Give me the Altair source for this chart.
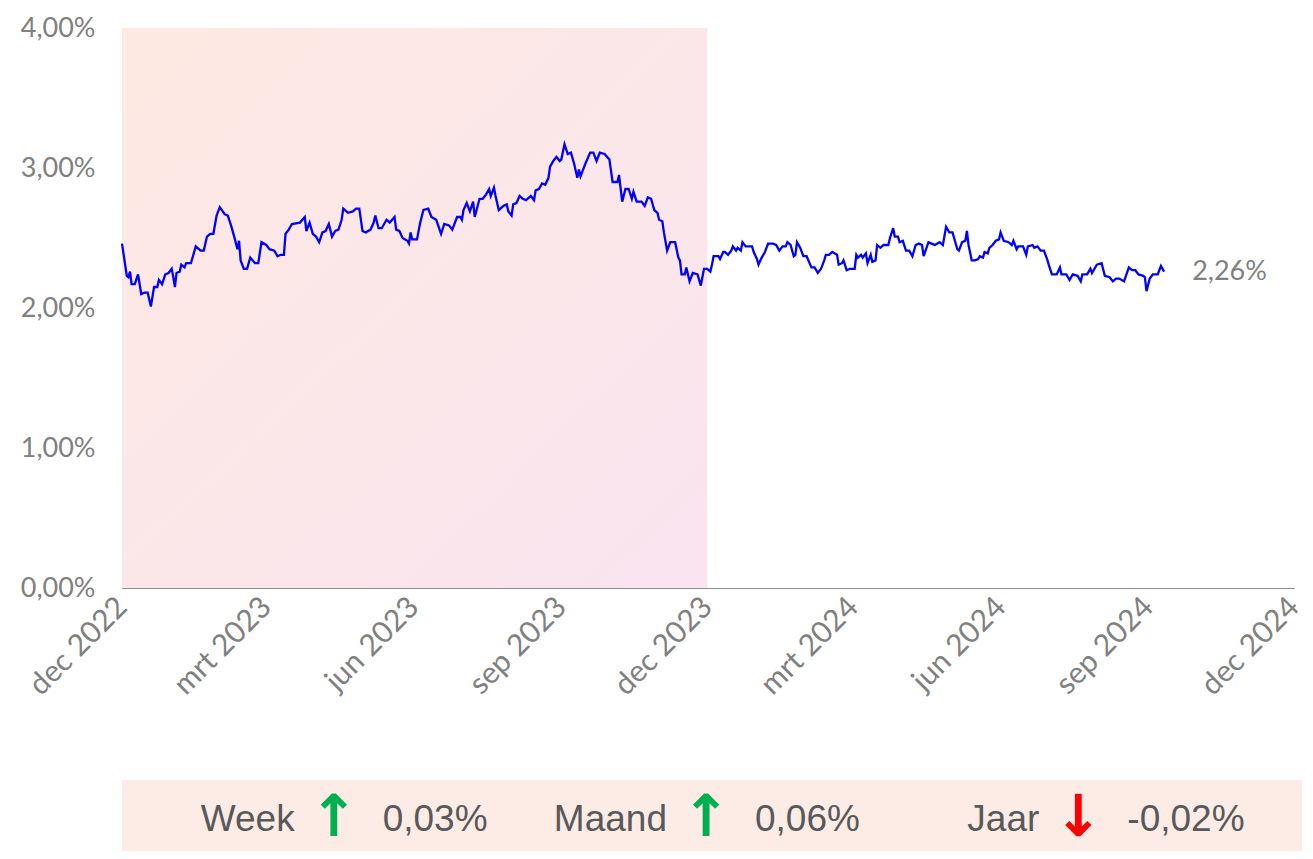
import altair as alt
import pandas as pd

# ---------------- data ----------------
start_date = "2022-12-01"
day_offsets = [
    0, 3, 4, 5, 6, 8, 10, 12, 14, 16, 18, 20, 22, 23, 25, 27, 29, 31, 32, 33, 34, 36, 37, 39, 40, 43, 46, 49, 51, 53,
    55, 57, 59, 61, 64, 66, 68, 70, 72, 73, 74, 76, 78, 80, 83, 85, 87, 90, 92, 95, 97, 99, 101, 102, 104, 106,
    111, 114, 115, 117, 119, 121, 123, 125, 127, 129, 131, 133, 135, 137, 138, 141, 144, 146, 148, 150, 152, 155,
    157, 158, 160, 162, 165, 167, 170, 171, 173, 175, 178, 179, 180, 181, 184, 186, 188, 191, 193, 196, 199, 201,
    204, 206, 209, 211, 212, 213, 215,
    217, 219, 220, 223, 225, 227, 229, 230, 232, 233, 235, 238, 240, 241, 243, 244, 246, 248, 250, 252, 255, 257,
    258, 260, 262, 264, 266, 267, 269, 271, 273, 274, 276, 278, 280, 282, 284, 285, 286, 289, 292, 294, 296, 298,
    301, 304, 306, 309, 310, 312, 314, 316, 318, 319, 321, 324,
    326, 328, 330, 332, 334, 335, 337, 338, 340, 342, 345, 347, 348, 349, 351, 352, 354, 356, 359, 360, 361, 363,
    365, 367, 368, 369, 372, 373, 375, 376, 378, 380, 381, 383, 384, 386, 387, 389, 393, 394, 396, 397, 399, 401,
    403, 406, 408, 410, 412, 414, 415, 417, 419, 420, 421, 423, 425, 427, 430, 432,
    434, 436, 438, 439, 441, 443, 446, 447, 449, 450, 452, 454, 457, 458, 459, 461, 462, 464, 465, 467, 468, 470,
    471, 473, 475, 478, 479, 481, 482, 484, 485, 487, 489, 491, 493, 495, 497, 499, 500, 503, 505, 507, 510, 512,
    514, 516, 518, 521, 522, 524, 526, 527, 528, 530, 532, 534, 535, 537, 538, 540, 541, 543,
    545, 547, 548, 550, 553, 555, 556, 558, 559, 562, 564, 565, 568, 569, 571, 573, 575, 577, 578, 580, 583, 585,
    586, 589, 591, 593, 596, 598, 599, 602, 604, 605, 608, 611, 613, 616, 618, 620, 622, 625, 628, 630, 632, 634,
    637, 638, 639, 641, 643, 646, 648, 650,
]
yield_values = [
    2.46, 2.23, 2.22, 2.26, 2.17, 2.17, 2.24, 2.10, 2.11, 2.11, 2.01, 2.15, 2.15, 2.20, 2.17, 2.24, 2.25, 2.28, 2.22,
    2.15, 2.25, 2.26, 2.31, 2.29, 2.32, 2.32, 2.44, 2.41, 2.41, 2.51, 2.53, 2.53, 2.66, 2.72, 2.67, 2.66, 2.59, 2.51,
    2.42, 2.48, 2.34, 2.28, 2.28, 2.36, 2.32, 2.32, 2.47, 2.45, 2.42, 2.41, 2.37, 2.38, 2.38, 2.53, 2.56, 2.60,
    2.61, 2.65, 2.55, 2.61, 2.53, 2.51, 2.47, 2.54, 2.55, 2.60, 2.51, 2.55, 2.56, 2.63, 2.71, 2.68, 2.69, 2.71, 2.71,
    2.55, 2.54, 2.56, 2.61, 2.66, 2.57, 2.57, 2.63, 2.61, 2.65, 2.56, 2.55, 2.50, 2.48, 2.46, 2.54, 2.49, 2.49, 2.61,
    2.70, 2.71, 2.65, 2.63, 2.53, 2.60, 2.59, 2.56, 2.65, 2.65, 2.63, 2.70, 2.75,
    2.69, 2.76, 2.65, 2.78, 2.78, 2.81, 2.85, 2.80, 2.86, 2.80, 2.70, 2.73, 2.74, 2.69, 2.66, 2.74, 2.75, 2.80, 2.78,
    2.77, 2.80, 2.77, 2.84, 2.85, 2.89, 2.88, 2.93, 3.01, 3.05, 3.08, 3.05, 3.06, 3.17, 3.10, 3.11, 3.03, 2.93, 2.99,
    2.94, 3.03, 3.11, 3.11, 3.05, 3.11, 3.10, 3.06, 2.90, 2.90, 2.95, 2.76, 2.85, 2.85, 2.78, 2.83, 2.76, 2.76,
    2.73, 2.79, 2.78, 2.70, 2.68, 2.63, 2.62, 2.54, 2.41, 2.47, 2.47, 2.36, 2.34, 2.24, 2.24, 2.29, 2.19, 2.25, 2.24,
    2.20, 2.16, 2.28, 2.28, 2.26, 2.31, 2.37, 2.37, 2.35, 2.40, 2.40, 2.38, 2.41, 2.44, 2.41, 2.43, 2.41, 2.47, 2.44,
    2.44, 2.40, 2.35, 2.31, 2.36, 2.40, 2.46, 2.46, 2.45, 2.41, 2.44, 2.44, 2.47, 2.45, 2.37, 2.38, 2.47, 2.43, 2.37,
    2.37, 2.29, 2.29,
    2.25, 2.28, 2.34, 2.38, 2.38, 2.40, 2.38, 2.31, 2.32, 2.34, 2.27, 2.28, 2.28, 2.38, 2.36, 2.38, 2.36, 2.39, 2.32,
    2.38, 2.33, 2.34, 2.45, 2.43, 2.45, 2.45, 2.50, 2.57, 2.51, 2.51, 2.47, 2.48, 2.41, 2.41, 2.37, 2.45, 2.46, 2.45,
    2.37, 2.47, 2.46, 2.45, 2.47, 2.45, 2.58, 2.54, 2.54, 2.42, 2.41, 2.47, 2.48, 2.55, 2.45, 2.34, 2.34, 2.35, 2.37,
    2.36, 2.40, 2.39, 2.43, 2.45,
    2.48, 2.49, 2.54, 2.48, 2.47, 2.45, 2.48, 2.42, 2.44, 2.44, 2.38, 2.44, 2.45, 2.43, 2.44, 2.41, 2.41, 2.35, 2.31,
    2.24, 2.24, 2.29, 2.24, 2.24, 2.20, 2.24, 2.23, 2.19, 2.24, 2.24, 2.28, 2.25, 2.31, 2.32, 2.23, 2.22, 2.19, 2.21,
    2.21, 2.19, 2.29, 2.27, 2.27, 2.24, 2.23, 2.22, 2.12, 2.21, 2.24, 2.24, 2.30, 2.26,
]

tick_dates = ["2022-12-01", "2023-03-01", "2023-06-01", "2023-09-01", "2023-12-01",
              "2024-03-01", "2024-06-01", "2024-09-01", "2024-12-01"]
y_ticks = [0, 1, 2, 3, 4]
shade_period = ["2022-12-01", "2023-12-01"]

stat_names = ["Week", "Maand", "Jaar"]
stat_changes = [0.03, 0.06, -0.02]

# ---------------- tables ----------------
dates = pd.Timestamp(start_date) + pd.to_timedelta(day_offsets, unit="D")
df = pd.DataFrame({"datum": dates.strftime("%Y-%m-%d"), "rente": yield_values})
last = df.iloc[[-1]].copy()
last["label"] = last["rente"].map(lambda v: f"{v:.2f}".replace(".", ",") + "%")

shade = pd.DataFrame({"start": [shade_period[0]], "end": [shade_period[1]],
                      "lo": [min(y_ticks)], "hi": [max(y_ticks)]})

def ms(d):
    return int(pd.Timestamp(d, tz="UTC").timestamp() * 1000)

tick_ms = [ms(d) for d in tick_dates]

stats = pd.DataFrame({
    "naam": stat_names,
    "pijl": ["\u2191" if c >= 0 else "\u2193" for c in stat_changes],
    "kleur": ["#00b050" if c >= 0 else "#ff0000" for c in stat_changes],
    "waarde": [f"{c:.2f}".replace(".", ",") + "%" for c in stat_changes],
})

# ---------------- main chart ----------------
FONT = "Lato"
FS = 27
LABEL_COLOR = "#808080"
W, H = 1172, 560

x_scale = alt.Scale(domain=[tick_ms[0], tick_ms[-1]])
y_scale = alt.Scale(domain=[min(y_ticks), max(y_ticks)], nice=False)

month_expr = ("['jan','feb','mrt','apr','mei','jun','jul','aug','sep','okt','nov','dec']"
              "[utcmonth(datum.value)] + ' ' + utcyear(datum.value)")

x_axis = alt.Axis(values=tick_ms, labelExpr=month_expr, labelAngle=-45, labelAlign="right",
                  labelBaseline="middle", labelFont=FONT, labelFontSize=30, labelColor=LABEL_COLOR,
                  labelPadding=14, ticks=False, grid=False, domainColor="#8c8c8c", title=None,
                  labelOverlap=False)
y_axis = alt.Axis(values=y_ticks, labelExpr="replace(format(datum.value, '.2f'), '.', ',') + '%'",
                  labelFont=FONT, labelFontSize=FS, labelColor=LABEL_COLOR, labelPadding=27,
                  ticks=False, grid=False, domainColor="#8c8c8c", title=None)

gradient = alt.Gradient(
    gradient="linear",
    stops=[alt.GradientStop(color="#fde9e1", offset=0),
           alt.GradientStop(color="#f9e4f0", offset=1)],
    x1=0, y1=0, x2=1, y2=1,
)

shade_layer = alt.Chart(shade).mark_rect(color=gradient).encode(
    x=alt.X("start:T", scale=x_scale, axis=x_axis),
    x2="end:T",
    y=alt.Y("lo:Q", scale=y_scale, axis=y_axis),
    y2="hi:Q",
)

line_layer = alt.Chart(df).mark_line(color="#0000ff", strokeWidth=2.3).encode(
    x=alt.X("datum:T", scale=x_scale),
    y=alt.Y("rente:Q", scale=y_scale),
)

end_label = alt.Chart(last).mark_text(align="left", baseline="middle", dx=28, font=FONT,
                                      fontSize=FS, color=LABEL_COLOR).encode(
    x=alt.X("datum:T", scale=x_scale),
    y=alt.Y("rente:Q", scale=y_scale),
    text="label:N",
)

top = alt.layer(shade_layer, line_layer, end_label).properties(
    width=W, height=H, view=alt.ViewBackground(stroke=None)
)

# ---------------- stats box ----------------
BW, BH = 1184, 71
sx = alt.X("naam:N", sort=stat_names, scale=alt.Scale(type="point", padding=0.59), axis=None)
TEXT_COLOR = "#595959"
SFONT = "Liberation Sans"

names = alt.Chart(stats).mark_text(align="right", baseline="middle", dx=-47, dy=4, font=SFONT,
                                   fontSize=37, color=TEXT_COLOR).encode(x=sx, text="naam:N")
arrows = alt.Chart(stats).mark_text(align="center", baseline="middle", dx=-8, dy=3, font="DejaVu Sans",
                                    fontSize=58, fontWeight="bold").encode(
    x=sx, text="pijl:N", color=alt.Color("kleur:N", scale=None))
values = alt.Chart(stats).mark_text(align="left", baseline="middle", dx=41, dy=4, font=SFONT,
                                    fontSize=37, color=TEXT_COLOR).encode(x=sx, text="waarde:N")

box = alt.layer(names, arrows, values).properties(
    width=BW, height=BH, view=alt.ViewBackground(fill="#fdece6", stroke=None)
)

chart = alt.vconcat(top, box, spacing=79).properties(
    padding={"left": 12, "top": 6, "right": -4, "bottom": 0}
).configure_view(stroke=None)

chart.save("out.html", embed_options={"renderer": "svg", "actions": False})
